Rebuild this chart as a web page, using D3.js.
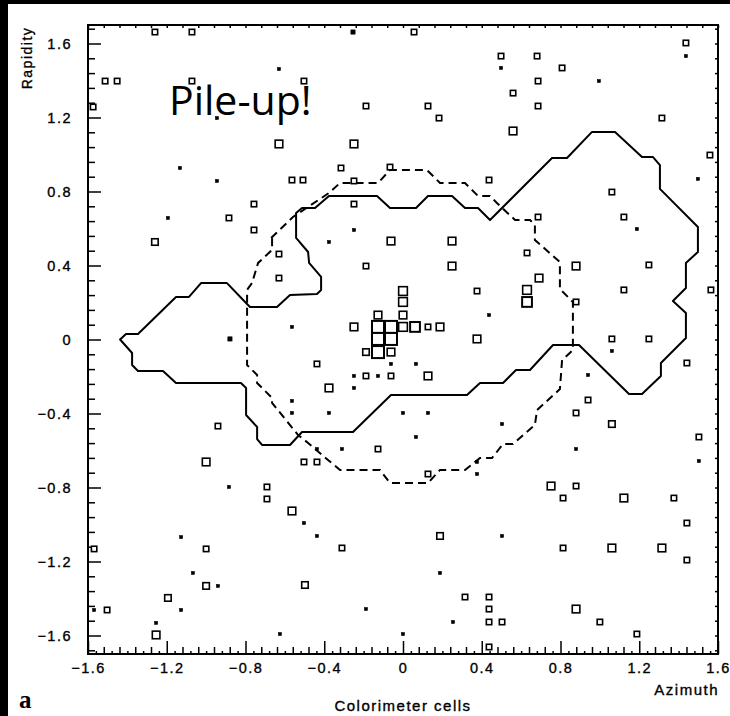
<!DOCTYPE html>
<html>
<head>
<meta charset="utf-8">
<script src="https://cdn.jsdelivr.net/npm/d3@7"></script>
<style>
  body { margin: 0; background: #fff; }
  svg { display: block; }
  .tick text { font-family: "Liberation Sans", Arial, sans-serif; font-size: 14.5px; letter-spacing: 1.5px; stroke: #000; stroke-width: 0.35px; }
  .lbl { font-family: "Liberation Sans", Arial, sans-serif; letter-spacing: 1.5px; stroke: #000; stroke-width: 0.35px; }
</style>
</head>
<body>
<svg width="730" height="716"></svg>
<script>
// calorimeter cells: azimuth, rapidity, energy class (1 = dot ... 5 = biggest box)
const cellPhi = [-1.260, -1.072, -1.513, -1.452, -1.574, -1.072, -0.945, -1.133, -0.945, -1.194, -0.884, -1.260,
  -0.254, 0.056, -0.630, -0.503, -0.188, 0.127, 0.183, -0.630, -0.249, -0.315, -0.066, -0.564, -0.508, -0.249, 0.437,
  0.498, 0.498, -0.757, -0.757, -0.249, -0.249, -0.376, -0.061, 0.249,
  1.437, 1.437, 0.681, 0.808, 0.686, 0.995, 0.559, 0.686, 1.315, 0.559, 1.559, 1.498, 1.061, 0.686, 1.122, 1.188,
  -0.879, -0.940, -1.000,
  -0.630, -0.188, 0.249, -0.630, 0, 0.376, 0, -0.127, 0, 0.437, -0.564, -0.249, -0.127, -0.061, 0, 0.061, 0.127, 0.188,
  -0.127, -0.061, 0.376, -0.188, -0.127, -0.061, -0.437, -0.061, 0.066, -0.249, -0.188, -0.127, -0.061, 0.127,
  -0.376, -0.249, -0.564, -0.564, -0.376, 0, 0.127, 0.066, -0.437, -0.310, -0.127, -0.503, -0.437, 0.127, 0.376, 0.376,
  0.630, 0.879, 1.249, 0.691, 1.122, 0.630, 0.630, 0.879, 1.564, 1.061, 1.249, 1.061, 1.442, 0.940, 0.940, 0.879,
  1.061, 0.503, 0.879, 1.503, 1.503,
  -0.884, -1.127, -1.000, -1.569, -1.067, -1.000, -0.940, -1.194, -1.569, -1.503, -1.127, -1.254, -1.254,
  -0.691, -0.691, -0.564, -0.503, -0.437, -0.310, 0.188, 0.188, -0.498, -0.188, 0.315, 0.437, 0.437, 0.254, 0.437,
  -0.625, 0, 0.437,
  0.752, 0.879, 0.813, 1.122, 1.376, 0.503, 1.442, 0.813, 1.061, 1.315, 1.442, 0.503, 0.879, 1.000, 1.188];
const cellEta = [1.662, 1.662, 1.397, 1.397, 1.257, 1.397, 1.197, 0.927, 0.857, 0.657, 0.657, 0.527,
  1.662, 1.662, 1.462, 1.397, 1.262, 1.262, 1.197, 1.057, 1.057, 0.927, 0.932, 0.862, 0.862, 0.857, 0.862,
  1.532, 1.468, 0.732, 0.592, 0.732, 0.592, 0.527, 0.532, 0.532,
  1.603, 1.532, 1.532, 1.468, 1.397, 1.397, 1.332, 1.262, 1.197, 1.127, 0.997, 0.868, 0.797, 0.662, 0.662, 0.597,
  0.003, -0.468, -0.662,
  0.462, 0.397, 0.397, 0.332, 0.262, 0.262, 0.203, 0.132, 0.132, 0.132, 0.068, 0.068, 0.068, 0.068, 0.068, 0.068, 0.068, 0.068,
  0.003, 0.003, 0.003, -0.068, -0.068, -0.068, -0.132, -0.132, -0.132, -0.197, -0.197, -0.197, -0.197, -0.197,
  -0.262, -0.262, -0.332, -0.397, -0.397, -0.397, -0.397, -0.527, -0.592, -0.592, -0.592, -0.662, -0.662, -0.727, -0.662, -0.727,
  0.468, 0.397, 0.403, 0.332, 0.268, 0.268, 0.203, 0.203, 0.268, 0.003, 0.003, -0.062, -0.127, -0.192, -0.327, -0.397,
  -0.457, -0.457, -0.592, -0.527, -0.657,
  -0.797, -1.068, -1.132, -1.132, -1.262, -1.332, -1.332, -1.397, -1.462, -1.462, -1.462, -1.532, -1.597,
  -0.797, -0.862, -0.927, -0.992, -1.062, -1.127, -1.062, -1.262, -1.327, -1.457, -1.392, -1.392, -1.457, -1.527, -1.527,
  -1.592, -1.592, -1.662,
  -0.792, -0.792, -0.857, -0.857, -0.857, -1.062, -0.992, -1.127, -1.127, -1.127, -1.192, -1.527, -1.457, -1.527, -1.592];
const cellE = [2, 2, 2, 2, 2, 2, 1, 1, 1, 1, 2, 2.5,
  1.5, 2, 1, 2, 2, 2, 2, 3, 3, 2, 2, 2, 2, 2, 2,
  2, 1, 2, 2, 2, 1, 1, 3, 3,
  2, 1, 2, 2, 2, 1, 2, 2, 2, 3, 2, 1, 2, 2, 2, 1,
  1.5, 2, 3,
  2, 2, 3, 2, 3.5, 2, 3.5, 3, 3, 1, 1, 3, 5, 5, 3.5, 4, 2, 3,
  5, 5, 3, 2.5, 5, 3, 2, 1, 1, 1, 2, 1, 2, 3,
  3, 1, 1, 1, 1, 1, 1, 1, 1, 1, 2, 2, 2, 2, 1, 1,
  2, 3, 2, 3, 2, 3.5, 4, 2, 2, 2, 2, 1, 2, 1, 2, 2,
  2.5, 1, 1, 2, 1,
  1, 1, 2, 2, 1, 2.5, 1, 2.5, 1, 2, 1, 1, 3,
  2, 2, 3, 1, 1, 2, 2.5, 1, 2.5, 1, 2, 2, 2, 1, 2,
  1, 1, 2,
  3, 2, 2, 3, 2, 1, 2, 2, 3, 3, 2, 2, 3, 2, 2];

// solid contour
const solidPhi = [-1.437, -1.407, -1.346, -1.153, -1.087, -1.026, -0.894, -0.802, -0.777, -0.640, -0.574, -0.437,
  -0.416, -0.416, -0.477, -0.482, -0.543, -0.543, -0.513, -0.447, -0.376, -0.132, -0.066, 0.066, 0.127, 0.249,
  0.315, 0.381, 0.442, 0.757, 0.833, 0.960, 1.077, 1.214, 1.270, 1.305, 1.305, 1.498, 1.498, 1.437, 1.437, 1.371,
  1.437, 1.437, 1.310, 1.310, 1.214, 1.148, 0.894, 0.762, 0.645, 0.574, 0.508, 0.391, 0.325, -0.061, -0.254,
  -0.513, -0.574, -0.716, -0.741, -0.741, -0.797, -0.797, -0.823, -1.153, -1.219, -1.346, -1.376, -1.376];
const solidEta = [0.000, 0.030, 0.030, 0.230, 0.230, 0.305, 0.305, 0.203, 0.176, 0.176, 0.241, 0.246,
  0.268, 0.338, 0.414, 0.473, 0.549, 0.684, 0.711, 0.711, 0.776, 0.776, 0.711, 0.711, 0.776, 0.776,
  0.711, 0.711, 0.646, 0.981, 0.981, 1.122, 1.122, 0.986, 0.986, 0.943, 0.814, 0.608, 0.473, 0.414, 0.278, 0.208,
  0.143, 0.008, -0.127, -0.197, -0.295, -0.295, -0.030, -0.030, -0.165, -0.165, -0.235, -0.235, -0.300, -0.300, -0.500,
  -0.500, -0.570, -0.570, -0.538, -0.473, -0.408, -0.262, -0.235, -0.235, -0.170, -0.170, -0.138, -0.073];

// dashed contour
const dashPhi = [-0.670, -0.559, -0.376, -0.320, -0.127, -0.066, 0.122, 0.188, 0.315, 0.381, 0.442, 0.477, 0.569,
  0.645, 0.670, 0.670, 0.797, 0.797, 0.863, 0.863, 0.808, 0.797, 0.681, 0.670, 0.559, 0.508, 0.452, 0.391, 0.315,
  0.188, 0.127, -0.066, -0.117, -0.320, -0.381, -0.482, -0.533, -0.665, -0.665, -0.741, -0.741, -0.792, -0.792,
  -0.767, -0.736, -0.665, -0.665];
const dashEta = [0.549, 0.662, 0.792, 0.846, 0.846, 0.916, 0.916, 0.846, 0.846, 0.776, 0.776, 0.738, 0.646,
  0.646, 0.619, 0.538, 0.419, 0.273, 0.203, -0.057, -0.111, -0.268, -0.381, -0.462, -0.565, -0.565, -0.641, -0.641, -0.705,
  -0.705, -0.776, -0.776, -0.705, -0.705, -0.651, -0.559, -0.516, -0.343, -0.316, -0.235, -0.192, -0.138, 0.268,
  0.305, 0.414, 0.484, 0.549];

const xTicks = [-1.6, -1.2, -0.8, -0.4, 0, 0.4, 0.8, 1.2, 1.6];
const yTicks = [-1.6, -1.2, -0.8, -0.4, 0, 0.4, 0.8, 1.2, 1.6];

const svg = d3.select("svg");
const margin = { top: 25, right: 12, bottom: 62, left: 88 };
const W = 730, H = 716;

const x = d3.scaleLinear().domain([-1.6, 1.6]).range([margin.left, W - margin.right]);
const y = d3.scaleLinear().domain([-1.7, 1.7]).range([H - margin.bottom, margin.top]);
const size = d3.scaleLinear().domain([1, 5]).range([3.2, 12]);

// black scan borders
svg.append("rect").attr("x", 0).attr("y", 0).attr("width", 8).attr("height", H).attr("fill", "#000");
svg.append("rect").attr("x", 0).attr("y", 0).attr("width", W).attr("height", 4).attr("fill", "#000");

const minorX = d3.range(-20, 21).map(i => i * 0.08).filter(v => Math.abs(v) <= 1.6 && Math.abs(Math.round(v / 0.08)) % 5 !== 0);
const tinyX = d3.range(-39, 40, 2).map(i => i * 0.04).filter(v => Math.abs(v) < 1.6);
const minorY = d3.range(-21, 22).map(i => i * 0.08).filter(v => Math.abs(Math.round(v / 0.08)) % 5 !== 0);
const fmt = d3.format(".1~f");

// bottom axis
svg.append("g").attr("transform", `translate(0,${y(-1.7)})`)
  .call(d3.axisBottom(x).tickValues(xTicks).tickSize(-13).tickPadding(9).tickFormat(fmt))
  .call(g => g.select(".domain").remove());
svg.append("g").attr("transform", `translate(0,${y(-1.7)})`)
  .call(d3.axisBottom(x).tickValues(minorX).tickSize(-7).tickFormat(""))
  .call(g => g.select(".domain").remove());
svg.append("g").attr("transform", `translate(0,${y(-1.7)})`)
  .call(d3.axisBottom(x).tickValues(tinyX).tickSize(-3).tickFormat(""))
  .call(g => g.select(".domain").remove());

// left axis
svg.append("g").attr("transform", `translate(${x(-1.6)},0)`)
  .call(d3.axisLeft(y).tickValues(yTicks).tickSize(-13).tickPadding(16).tickFormat(fmt))
  .call(g => g.select(".domain").remove());
svg.append("g").attr("transform", `translate(${x(-1.6)},0)`)
  .call(d3.axisLeft(y).tickValues(minorY).tickSize(-7).tickFormat(""))
  .call(g => g.select(".domain").remove());

// top and right small ticks
svg.append("g").attr("transform", `translate(0,${y(1.7)})`)
  .call(d3.axisTop(x).tickValues(minorX.concat(xTicks)).tickSize(-3).tickFormat(""))
  .call(g => g.select(".domain").remove());
svg.append("g").attr("transform", `translate(${x(1.6)},0)`)
  .call(d3.axisRight(y).tickValues(minorY.concat(yTicks)).tickSize(-3).tickFormat(""))
  .call(g => g.select(".domain").remove());

svg.selectAll(".tick line").attr("stroke", "#000").attr("stroke-width", 1.5);

// frame
svg.append("rect")
  .attr("x", x(-1.6)).attr("y", y(1.7))
  .attr("width", x(1.6) - x(-1.6)).attr("height", y(-1.7) - y(1.7))
  .attr("fill", "none").attr("stroke", "#000").attr("stroke-width", 2);

// contours
const line = d3.line().x(d => x(d[0])).y(d => y(d[1])).curve(d3.curveLinearClosed);
svg.append("path")
  .attr("d", line(solidPhi.map((p, i) => [p, solidEta[i]])))
  .attr("fill", "none").attr("stroke", "#000").attr("stroke-width", 2).attr("stroke-linejoin", "round");
svg.append("path")
  .attr("d", line(dashPhi.map((p, i) => [p, dashEta[i]])))
  .attr("fill", "none").attr("stroke", "#000").attr("stroke-width", 2).attr("stroke-dasharray", "8,5");

// cells
const cells = cellPhi.map((p, i) => ({ phi: p, eta: cellEta[i], e: cellE[i] }));
svg.append("g").selectAll("rect")
  .data(cells)
  .enter().append("rect")
  .attr("x", d => x(d.phi) - size(d.e) / 2)
  .attr("y", d => y(d.eta) - size(d.e) / 2)
  .attr("width", d => size(d.e))
  .attr("height", d => size(d.e))
  .attr("fill", d => d.e <= 1.5 ? "#000" : "#fff")
  .attr("stroke", "#000")
  .attr("stroke-width", d => d.e <= 1.5 ? 0.5 : (d.e >= 4 ? 2 : 1.6));

// titles
svg.append("text").attr("class", "lbl")
  .attr("transform", `translate(32,58) rotate(-90)`)
  .attr("text-anchor", "middle")
  .style("font-size", "14px")
  .text("Rapidity");
svg.append("text").attr("class", "lbl")
  .attr("x", x(1.6) + 1).attr("y", 695)
  .attr("text-anchor", "end")
  .style("font-size", "15px")
  .text("Azimuth");
svg.append("text").attr("class", "lbl")
  .attr("x", x(0)).attr("y", 711)
  .attr("text-anchor", "middle")
  .style("font-size", "15px")
  .text("Colorimeter cells");
svg.append("text")
  .attr("x", 19).attr("y", 708)
  .style("font-family", "'Liberation Serif', 'DejaVu Serif', serif").style("font-size", "25px").style("font-weight", "bold")
  .text("a");
svg.append("text")
  .attr("x", 169).attr("y", 115)
  .style("font-family", "'Open Sans', sans-serif").style("font-size", "41px")
  .text("Pile-up!");
</script>
</body>
</html>
